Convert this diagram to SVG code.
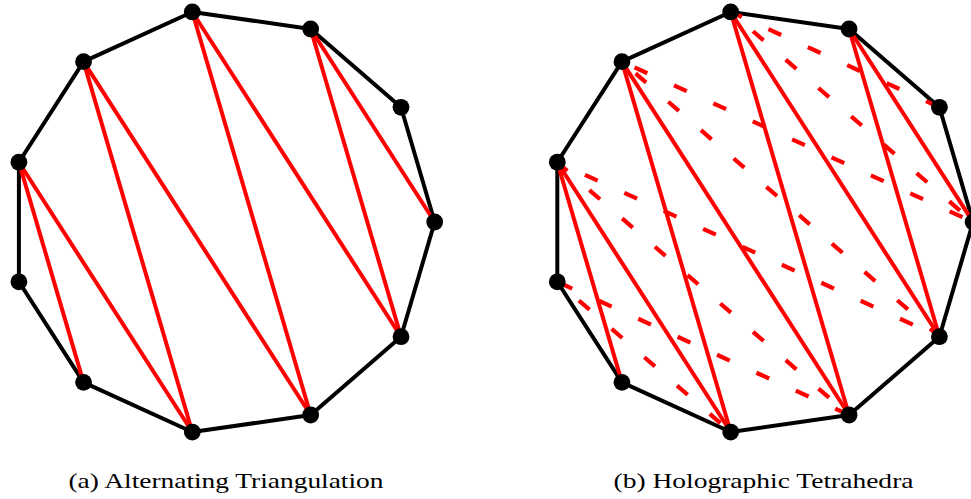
<svg xmlns="http://www.w3.org/2000/svg" width="971" height="499" viewBox="0 0 971 499">
<style>
.edge{fill:none;stroke:#000;stroke-width:4;stroke-linejoin:round}
.tri{stroke:#ff0000;stroke-width:4;fill:none}
.dash{stroke:#ff0000;stroke-width:4.2;fill:none;stroke-dasharray:14 29.3}
.dot{fill:#000}
.cap{font-family:"Liberation Serif","DejaVu Serif",serif;font-size:21px;fill:#000}
</style>
<rect width="971" height="499" fill="#fff"/>
<g id="connectors">
<polygon class="edge" points="192.3,11.96 310.65,28.98 401.01,107.28 434.7,222 401.01,336.72 310.65,415.02 192.3,432.04 83.54,382.37 18.9,281.78 18.9,162.22 83.54,61.63"/>
<polygon class="edge" points="730.7,11.96 849.05,28.98 939.41,107.28 973.1,222 939.41,336.72 849.05,415.02 730.7,432.04 621.94,382.37 557.3,281.78 557.3,162.22 621.94,61.63"/>
<g id="left-triangulation">
<line class="tri" x1="18.9" y1="162.22" x2="83.54" y2="382.37"/>
<line class="tri" x1="18.9" y1="162.22" x2="192.3" y2="432.04"/>
<line class="tri" x1="83.54" y1="61.63" x2="192.3" y2="432.04"/>
<line class="tri" x1="83.54" y1="61.63" x2="310.65" y2="415.02"/>
<line class="tri" x1="192.3" y1="11.96" x2="310.65" y2="415.02"/>
<line class="tri" x1="192.3" y1="11.96" x2="401.01" y2="336.72"/>
<line class="tri" x1="310.65" y1="28.98" x2="401.01" y2="336.72"/>
<line class="tri" x1="310.65" y1="28.98" x2="434.7" y2="222"/>
</g>
<g id="right-triangulation">
<line class="tri" x1="557.3" y1="162.22" x2="621.94" y2="382.37"/>
<line class="tri" x1="557.3" y1="162.22" x2="730.7" y2="432.04"/>
<line class="tri" x1="621.94" y1="61.63" x2="730.7" y2="432.04"/>
<line class="tri" x1="621.94" y1="61.63" x2="849.05" y2="415.02"/>
<line class="tri" x1="730.7" y1="11.96" x2="849.05" y2="415.02"/>
<line class="tri" x1="730.7" y1="11.96" x2="939.41" y2="336.72"/>
<line class="tri" x1="849.05" y1="28.98" x2="939.41" y2="336.72"/>
<line class="tri" x1="849.05" y1="28.98" x2="973.1" y2="222"/>
</g>
<g id="right-dashed">
<line class="dash" style="stroke-dashoffset:14.7" x1="557.3" y1="281.78" x2="730.7" y2="432.04"/>
<line class="dash" style="stroke-dashoffset:40.9" x1="557.3" y1="281.78" x2="849.05" y2="415.02"/>
<line class="dash" style="stroke-dashoffset:0.8" x1="557.3" y1="162.22" x2="849.05" y2="415.02"/>
<line class="dash" style="stroke-dashoffset:12.9" x1="557.3" y1="162.22" x2="939.41" y2="336.72"/>
<line class="dash" style="stroke-dashoffset:25.3" x1="621.94" y1="61.63" x2="939.41" y2="336.72"/>
<line class="dash" style="stroke-dashoffset:29.4" x1="621.94" y1="61.63" x2="973.1" y2="222"/>
<line class="dash" style="stroke-dashoffset:13.8" x1="730.7" y1="11.96" x2="973.1" y2="222"/>
<line class="dash" style="stroke-dashoffset:1.8" x1="730.7" y1="11.96" x2="939.41" y2="107.28"/>
</g>
</g>
<g id="left-nodes">
<g id="a0"><circle class="dot" cx="192.3" cy="11.96" r="8.4"/></g>
<g id="a1"><circle class="dot" cx="310.65" cy="28.98" r="8.4"/></g>
<g id="a2"><circle class="dot" cx="401.01" cy="107.28" r="8.4"/></g>
<g id="a3"><circle class="dot" cx="434.7" cy="222" r="8.4"/></g>
<g id="a4"><circle class="dot" cx="401.01" cy="336.72" r="8.4"/></g>
<g id="a5"><circle class="dot" cx="310.65" cy="415.02" r="8.4"/></g>
<g id="a6"><circle class="dot" cx="192.3" cy="432.04" r="8.4"/></g>
<g id="a7"><circle class="dot" cx="83.54" cy="382.37" r="8.4"/></g>
<g id="a8"><circle class="dot" cx="18.9" cy="281.78" r="8.4"/></g>
<g id="a9"><circle class="dot" cx="18.9" cy="162.22" r="8.4"/></g>
<g id="a10"><circle class="dot" cx="83.54" cy="61.63" r="8.4"/></g>
</g>
<g id="right-nodes">
<g id="b0"><circle class="dot" cx="730.7" cy="11.96" r="8.4"/></g>
<g id="b1"><circle class="dot" cx="849.05" cy="28.98" r="8.4"/></g>
<g id="b2"><circle class="dot" cx="939.41" cy="107.28" r="8.4"/></g>
<g id="b3"><circle class="dot" cx="973.1" cy="222" r="8.4"/></g>
<g id="b4"><circle class="dot" cx="939.41" cy="336.72" r="8.4"/></g>
<g id="b5"><circle class="dot" cx="849.05" cy="415.02" r="8.4"/></g>
<g id="b6"><circle class="dot" cx="730.7" cy="432.04" r="8.4"/></g>
<g id="b7"><circle class="dot" cx="621.94" cy="382.37" r="8.4"/></g>
<g id="b8"><circle class="dot" cx="557.3" cy="281.78" r="8.4"/></g>
<g id="b9"><circle class="dot" cx="557.3" cy="162.22" r="8.4"/></g>
<g id="b10"><circle class="dot" cx="621.94" cy="61.63" r="8.4"/></g>
</g>
<g id="captions">
<text class="cap" x="68.5" y="487.5" textLength="315" lengthAdjust="spacingAndGlyphs">(a) Alternating Triangulation</text>
<text class="cap" x="613.5" y="487.5" textLength="300" lengthAdjust="spacingAndGlyphs">(b) Holographic Tetrahedra</text>
</g>
</svg>
